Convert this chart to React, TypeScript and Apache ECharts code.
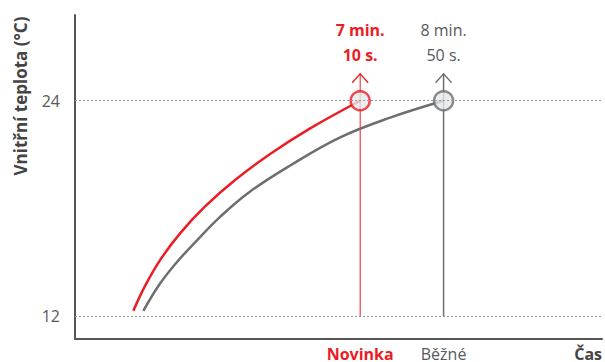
import React, { useEffect, useRef } from "react";
import * as echarts from "echarts";

// Temperature ticks (°C)
const tempTicks = [12, 24];
// Time in minutes
const novinkaTime = [2.633, 2.867, 3.167, 3.567, 4.067, 4.667, 5.367, 6.167, 7.1667];
const novinkaTemp = [12.29, 13.68, 15.12, 16.61, 18.11, 19.58, 21.03, 22.46, 24.0];
const bezneTime = [2.833, 3.133, 3.467, 3.867, 4.367, 4.967, 5.767, 6.767, 7.767, 8.8333];
const bezneTemp = [12.29, 13.68, 14.89, 16.11, 17.53, 18.94, 20.39, 21.96, 23.06, 24.0];
// End markers
const markerNames = ["Novinka", "Běžné"];
const markerTimes = [7.1667, 8.8333];
const markerTemps = [24, 24];
const markerLine1 = ["7 min.", "8 min."];
const markerLine2 = ["10 s.", "50 s."];

const RED = "#ec1c24";
const GRAY = "#6d6e71";
const TEXT = "#58595b";
const FONT = "'Open Sans', 'Noto Sans', sans-serif";

export default function App() {
  const ref = useRef<HTMLDivElement>(null);
  useEffect(() => {
    if (!ref.current) return;
    const chart = echarts.init(ref.current, null, { renderer: "svg" });
    const markerColors = [RED, GRAY];
    const markerBold = [true, false];
    chart.setOption({
      animation: false,
      textStyle: { fontFamily: FONT },
      grid: { left: 75, right: 3, top: 15, bottom: 22, containLabel: false },
      xAxis: {
        type: "value",
        min: 1.4667,
        max: 12,
        axisLine: { show: true, lineStyle: { color: "#555", width: 2 } },
        axisTick: { show: false },
        splitLine: { show: false },
        name: "Čas",
        nameLocation: "end",
        nameGap: 0,
        nameTextStyle: {
          align: "right",
          verticalAlign: "top",
          padding: [7, 0, 0, 0],
          fontSize: 16,
          fontWeight: "bold",
          color: "#444",
          fontFamily: FONT,
        },
        axisLabel: {
          customValues: markerTimes,
          margin: 7,
          fontSize: 16,
          fontFamily: FONT,
          formatter: (v: number) => {
            let idx = 0;
            let best = Infinity;
            markerTimes.forEach((t, i) => {
              const d = Math.abs(t - v);
              if (d < best) {
                best = d;
                idx = i;
              }
            });
            return idx === 0 ? `{r|${markerNames[0]}}` : `{g|${markerNames[1]}}`;
          },
          rich: {
            r: { color: RED, fontWeight: "bold", fontSize: 16, fontFamily: FONT },
            g: { color: TEXT, fontSize: 16, fontFamily: FONT },
          },
        },
      },
      yAxis: {
        type: "value",
        min: 10.7222,
        max: 28.7778,
        axisLine: { show: true, lineStyle: { color: "#555", width: 2 } },
        axisTick: { show: false },
        splitLine: { show: false },
        axisLabel: {
          customValues: tempTicks,
          margin: 15,
          fontSize: 16,
          color: TEXT,
          fontFamily: FONT,
        },
      },
      graphic: [
        {
          type: "text",
          x: 20,
          y: 96,
          rotation: Math.PI / 2,
          style: {
            text: "Vnitřní teplota (°C)",
            align: "center",
            verticalAlign: "middle",
            fontSize: 17,
            fontWeight: "bold",
            fill: "#444",
            fontFamily: FONT,
          },
        },
      ],
      series: [
        {
          type: "line",
          data: [],
          silent: true,
          markLine: {
            symbol: "none",
            silent: true,
            label: { show: false },
            lineStyle: { type: [2, 2], color: "#999", width: 1 },
            data: tempTicks.map((t) => ({ yAxis: t })),
          },
          z: 1,
        },
        {
          type: "custom",
          z: 2,
          data: markerTimes.map((t, i) => [t, markerTemps[i], i]),
          renderItem: (params: any, api: any) => {
            const t = api.value(0);
            const temp = api.value(1);
            const i = api.value(2);
            const color = markerColors[i];
            const bottom = api.coord([t, tempTicks[0]]);
            const top = api.coord([t, temp]);
            const tipY = top[1] - 27;
            const bold = markerBold[i] ? "bold" : "normal";
            return {
              type: "group",
              children: [
                {
                  type: "line",
                  shape: { x1: bottom[0], y1: bottom[1], x2: top[0], y2: tipY },
                  style: { stroke: color, lineWidth: i === 0 ? 1 : 1.5 },
                },
                {
                  type: "polyline",
                  shape: {
                    points: [
                      [top[0] - 8, tipY + 9],
                      [top[0], tipY],
                      [top[0] + 8, tipY + 9],
                    ],
                  },
                  style: { stroke: color, lineWidth: 1.3, fill: "none" },
                },
                {
                  type: "text",
                  x: top[0],
                  y: top[1] - 71,
                  style: {
                    text: markerLine1[i],
                    align: "center",
                    verticalAlign: "middle",
                    fontSize: 16,
                    fontWeight: bold,
                    fill: i === 0 ? RED : TEXT,
                    fontFamily: FONT,
                  },
                },
                {
                  type: "text",
                  x: top[0],
                  y: top[1] - 46,
                  style: {
                    text: markerLine2[i],
                    align: "center",
                    verticalAlign: "middle",
                    fontSize: 16,
                    fontWeight: bold,
                    fill: i === 0 ? RED : TEXT,
                    fontFamily: FONT,
                  },
                },
              ],
            };
          },
        },
        {
          name: markerNames[1],
          type: "line",
          smooth: 0.4,
          showSymbol: false,
          lineStyle: { color: GRAY, width: 2.5 },
          data: bezneTime.map((t, i) => [t, bezneTemp[i]]),
          z: 3,
        },
        {
          name: markerNames[0],
          type: "line",
          smooth: 0.4,
          showSymbol: false,
          lineStyle: { color: RED, width: 2.5 },
          data: novinkaTime.map((t, i) => [t, novinkaTemp[i]]),
          z: 3,
        },
        {
          type: "scatter",
          symbolSize: 19,
          z: 4,
          data: markerTimes.map((t, i) => ({
            value: [t, markerTemps[i]],
            itemStyle: { color: "#e6e7e8", borderColor: markerColors[i], borderWidth: 2.5 },
          })),
        },
      ],
    });
    return () => chart.dispose();
  }, []);
  return <div ref={ref} style={{ width: 605, height: 362, position: "absolute", left: 0, top: 0 }} />;
}
